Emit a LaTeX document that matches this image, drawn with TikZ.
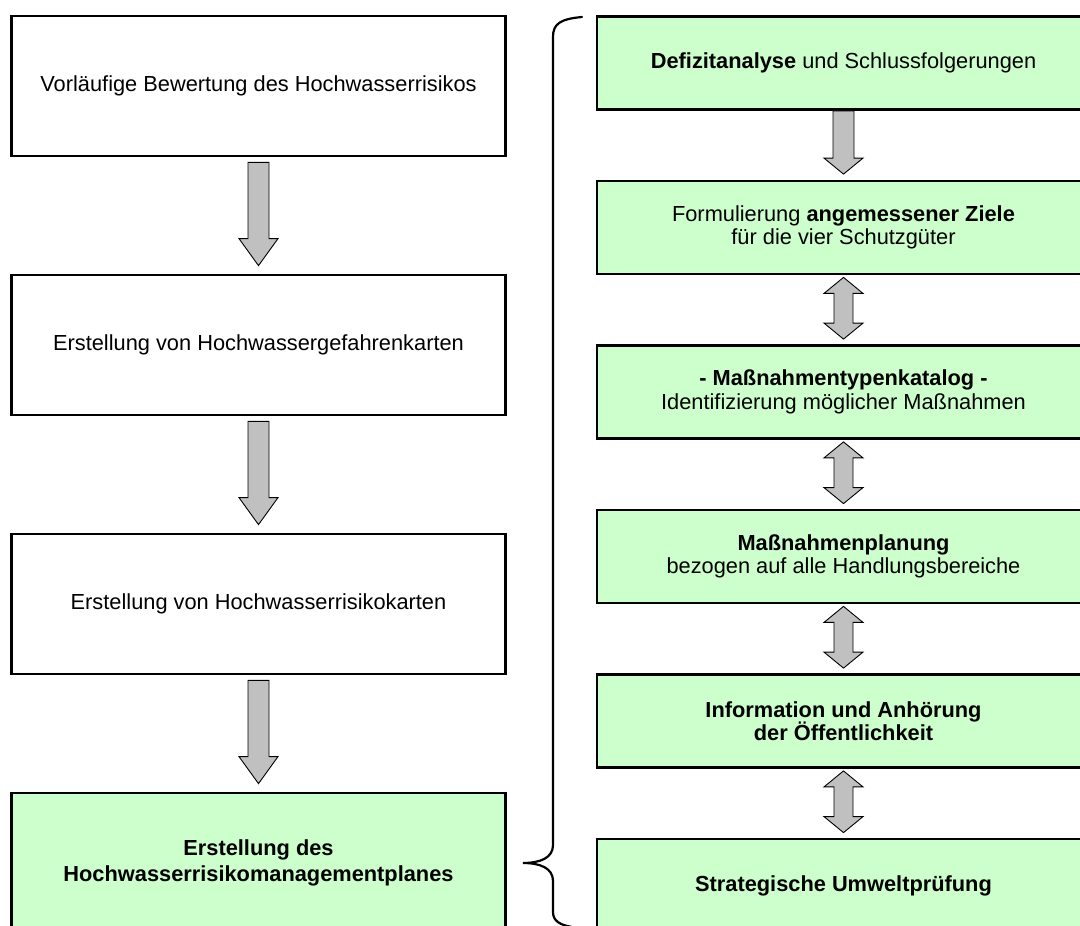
\documentclass[tikz,border=0pt]{standalone}
\usepackage{fontspec}
\setmainfont{Liberation Sans}
\usetikzlibrary{calc}
\definecolor{boxgreen}{HTML}{CCFFCC}
\definecolor{arrowgray}{HTML}{C0C0C0}
\tikzset{
  stepbox/.style={draw=black, line width=2.8pt, rectangle, inner sep=0pt, align=center,
    font=\fontsize{21.8}{23.5}\selectfont},
  leftbox/.style={stepbox, minimum width=494pt, minimum height=140pt},
  rightbox/.style={stepbox, fill=boxgreen, minimum width=493pt, minimum height=93pt},
  blockarrow/.style={draw=black, line width=0.9pt, fill=arrowgray, line join=miter},
  bracepath/.style={draw=black, line width=2.2pt, line cap=round}
}
% single block arrow pointing down between two nodes
% #1 upper node, #2 lower node, #3 top gap, #4 bottom gap, #5 head length
\newcommand\blockdown[5]{%
  \path[blockarrow] let \p1=(#1.south), \p2=(#2.north) in
    (\x1-10.5pt, \y1-#3) -- (\x1+10.5pt, \y1-#3) -- (\x1+10.5pt, \y2+#4+#5)
    -- (\x1+19.5pt, \y2+#4+#5) -- (\x1, \y2+#4) -- (\x1-19.5pt, \y2+#4+#5)
    -- (\x1-10.5pt, \y2+#4+#5) -- cycle;}
% double block arrow between two nodes
\newcommand\blockboth[5]{%
  \path[blockarrow] let \p1=(#1.south), \p2=(#2.north) in
    (\x1, \y1-#3) -- (\x1+19.5pt, \y1-#3-#5) -- (\x1+9.5pt, \y1-#3-#5)
    -- (\x1+9.5pt, \y2+#4+#5) -- (\x1+19.5pt, \y2+#4+#5) -- (\x1, \y2+#4)
    -- (\x1-19.5pt, \y2+#4+#5) -- (\x1-9.5pt, \y2+#4+#5) -- (\x1-9.5pt, \y1-#3-#5)
    -- (\x1-19.5pt, \y1-#3-#5) -- cycle;}
\begin{document}
\begin{tikzpicture}[x=1pt, y=-1pt]
\useasboundingbox (0,0) rectangle (1080,926);
\clip (0,0) rectangle (1080,926);
\fill[white] (0,0) rectangle (1080,926);

% left column
\node[leftbox] (L1) at (258.5,86) {Vorläufige Bewertung des Hochwasserrisikos};
\node[leftbox] (L2) at (258.5,345) {Erstellung von Hochwassergefahrenkarten};
\node[leftbox] (L3) at (258.5,604) {Erstellung von Hochwasserrisikokarten};
\node[leftbox, fill=boxgreen, font=\fontsize{21.8}{26}\selectfont] (L4) at (258.5,863) {\textbf{Erstellung des}\\\textbf{Hochwasserrisikomanagementplanes}};

% right column
\node[rightbox] (R1) at (843.5,63) {\textbf{Defizitanalyse} und Schlussfolgerungen};
\node[rightbox] (R2) at (843.5,227.5) {Formulierung \textbf{angemessener Ziele}\\für die vier Schutzgüter};
\node[rightbox] (R3) at (843.5,392) {\textbf{- Maßnahmentypenkatalog -}\\Identifizierung möglicher Maßnahmen};
\node[rightbox] (R4) at (843.5,556.5) {\textbf{Maßnahmenplanung}\\bezogen auf alle Handlungsbereiche};
\node[rightbox] (R5) at (843.5,721) {\textbf{Information und Anhörung}\\\textbf{der Öffentlichkeit}};
\node[rightbox] (R6) at (843.5,885.5) {\textbf{Strategische Umweltprüfung}};

% left arrows
\blockdown{L1}{L2}{5pt}{8pt}{27pt}
\blockdown{L2}{L3}{5pt}{8pt}{27pt}
\blockdown{L3}{L4}{5pt}{8pt}{27pt}

% right arrows
\blockdown{R1}{R2}{0pt}{5.5pt}{16pt}
\blockboth{R2}{R3}{2pt}{5pt}{16pt}
\blockboth{R3}{R4}{2pt}{5pt}{16pt}
\blockboth{R4}{R5}{2pt}{5pt}{16pt}
\blockboth{R5}{R6}{2pt}{5pt}{16pt}

% curly brace
\path[bracepath] (582,17) .. controls (560,19) and (553,24) .. (553,37)
  -- (553,845) .. controls (553,858) and (540,863) .. (523,863)
  .. controls (540,863) and (553,868) .. (553,881)
  -- (553,912) .. controls (553,921) and (560,925) .. (572,927);
\end{tikzpicture}
\end{document}
